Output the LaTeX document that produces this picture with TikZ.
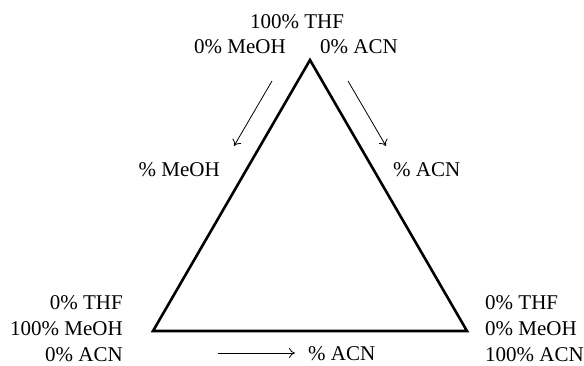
\documentclass[tikz,border=0pt]{standalone}
\usepackage{fontspec}
\setmainfont{Liberation Serif}
\usepackage{tikz}
\usetikzlibrary{arrows.meta,positioning,calc}

\tikzset{
    lbl/.style={font=\fontsize{21}{26}\selectfont, inner sep=0pt},
    edgeline/.style={line width=2.6pt, line join=miter, line cap=round},
    dirarrow/.style={-{To[length=6pt,width=10pt]}, line width=0.8pt}
}

\begin{document}
\begin{tikzpicture}[x=1pt,y=-1pt]
    \useasboundingbox (0,0) rectangle (584,366);

    % corners of the mixing triangle
    \coordinate (thf)  at (310,60);
    \coordinate (meoh) at (153,331);
    \coordinate (acn)  at (467,331);

    \draw[edgeline] (thf) -- (meoh) -- (acn) -- cycle;

    % compositions at the corners
    \node[lbl] (thfTop) at (297,22) {100\% THF};
    \node[lbl] (thfLeft) at (240,47) {0\% MeOH};
    \node[lbl] (thfRight) at (359,47) {0\% ACN};

    \node[lbl, align=right, left=30pt of meoh, yshift=2pt] (meohLbl) {0\% THF\\100\% MeOH\\0\% ACN};
    \node[lbl, align=left, right=18pt of acn, yshift=2pt] (acnLbl) {0\% THF\\0\% MeOH\\100\% ACN};

    % direction of increasing content along each side
    \node[lbl, anchor=east] (pcMeoh) at (220,170) {\% MeOH};
    \node[lbl, anchor=west] (pcAcnR) at (393,170) {\% ACN};
    \node[lbl, anchor=west] (pcAcnB) at (308,354) {\% ACN};

    \coordinate (la1) at (272,81);
    \coordinate (la2) at (234,146);
    \coordinate (ra1) at (348,81);
    \coordinate (ra2) at (386,146);
    \coordinate (ba1) at (218,353);

    \draw[dirarrow] (la1) -- (la2);
    \draw[dirarrow] (ra1) -- (ra2);
    \draw[dirarrow, shorten >=13pt] (ba1) -- (pcAcnB.west |- ba1);
\end{tikzpicture}
\end{document}
